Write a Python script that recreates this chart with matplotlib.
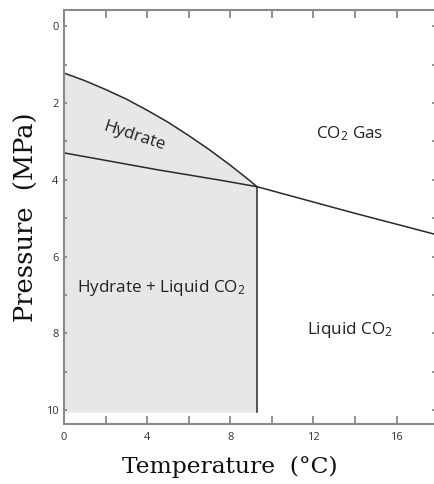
import numpy as np
import matplotlib.pyplot as plt
from matplotlib.ticker import MultipleLocator

# phase boundaries (temperature in C, pressure in MPa)
t_hyd_gas = [0, 1, 2, 3, 4, 5, 6, 7, 8, 9, 9.28]
p_hyd_gas = [1.22, 1.42, 1.65, 1.90, 2.19, 2.50, 2.85, 3.22, 3.62, 4.05, 4.18]

t_hyd_water = [0, 4.5, 7.5, 9.28]
p_hyd_water = [3.30, 3.74, 4.01, 4.18]

t_vapor = [9.28, 13.9, 17.85]
p_vapor = [4.18, 4.86, 5.42]

t_quad = 9.28
p_bottom = 10.05

plt.rcParams['mathtext.fontset'] = 'custom'
plt.rcParams['mathtext.rm'] = 'Open Sans'
plt.rcParams['mathtext.it'] = 'Open Sans:italic'

fig = plt.figure(figsize=(4.35, 4.84), dpi=100)
ax = fig.add_axes([64 / 435, 60 / 484, 371 / 435, 414 / 484])

# shaded hydrate-stable region
ax.fill_between(t_hyd_gas, p_hyd_gas, p_bottom, color='#e6e7e7', lw=0)

lc = '#2a2a2a'
ax.plot(t_hyd_gas, p_hyd_gas, color=lc, lw=1.1)
ax.plot(t_hyd_water, p_hyd_water, color=lc, lw=1.1)
ax.plot(t_vapor, p_vapor, color=lc, lw=1.1)
ax.plot([t_quad, t_quad], [p_hyd_gas[-1], p_bottom], color=lc, lw=1.1)

ax.set_xlim(0, 17.85)
ax.set_ylim(10.36, -0.42)

ax.xaxis.set_major_locator(MultipleLocator(4))
ax.xaxis.set_minor_locator(MultipleLocator(2))
ax.yaxis.set_major_locator(MultipleLocator(2))
ax.yaxis.set_minor_locator(MultipleLocator(1))

for side in ['left', 'bottom', 'top']:
    ax.spines[side].set_color('#8a8a8a')
    ax.spines[side].set_linewidth(1.5)
ax.spines['right'].set_visible(False)

ax.tick_params(axis='x', which='both', direction='in', top=True, bottom=True,
               length=6, width=1.3, color='#8a8a8a', labelsize=8,
               labelcolor='#333333', pad=6)
ax.tick_params(axis='y', which='both', direction='in', left=True, right=True,
               length=2.5, width=1.3, color='#8a8a8a', labelsize=8,
               labelcolor='#333333', pad=4)
for lab in ax.get_xticklabels() + ax.get_yticklabels():
    lab.set_family('Open Sans')

tf = dict(family='Open Sans', fontsize=12.3, color='#222222')
ax.text(3.37, 2.88, 'Hydrate', rotation=-18, ha='center', va='center', **tf)
ax.text(13.75, 2.79, 'CO$_2$ Gas', ha='center', va='center', **tf)
ax.text(0.63, 6.82, 'Hydrate + Liquid CO$_2$', ha='left', va='center', **tf)
ax.text(13.75, 7.92, 'Liquid CO$_2$', ha='center', va='center', **tf)

ax.set_xlabel('Temperature  (°C)', family='DejaVu Serif', fontsize=16.8,
              color='#111111', labelpad=9)
ax.xaxis.label.set_x(0.447)
ax.set_ylabel('Pressure  (MPa)', family='DejaVu Serif', fontsize=18.5,
              color='#111111', labelpad=5)

plt.savefig('out.png', dpi=100)
